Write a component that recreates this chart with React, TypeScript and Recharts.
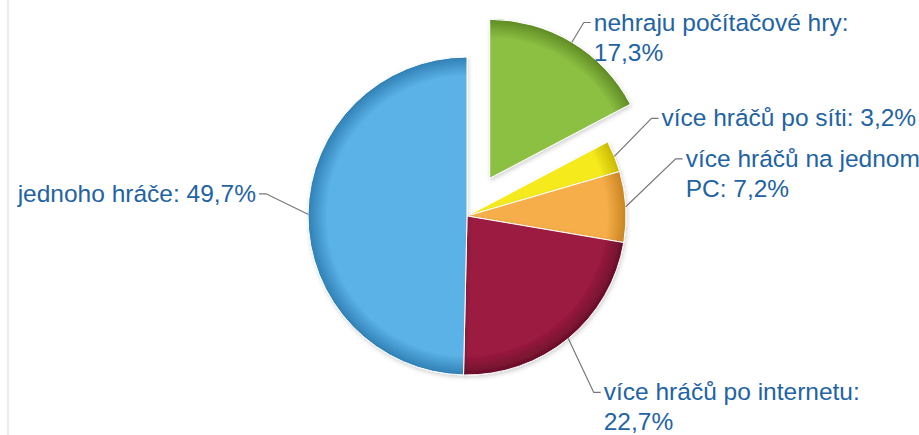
import React from "react"
import { Cell, Pie, PieChart } from "recharts"

// slice order: clockwise from 12 o'clock
const categories = [
  "nehraju počítačové hry",
  "více hráčů po síti",
  "více hráčů na jednom PC",
  "více hráčů po internetu",
  "jednoho hráče",
]
const shares = [17.3, 3.2, 7.2, 22.7, 49.7]

const colors = ["#8cc043", "#f5ea1f", "#f5ae48", "#9b1a40", "#5ab2e6"]
const edgeColors = ["#5f8a24", "#c9b800", "#c98321", "#6a0f2a", "#2f7fb4"]

// label elbow: extra radius beyond the slice and a vertical nudge (layout only)
const labelExtra = [23, 40, 50, 40, 42]
const labelNudge = [0, -23, -45, 23, -20]

const CX = 467
const CY = 216
const R = 159
const EXPLODE = 44
const RADIAN = Math.PI / 180
const FONT = "24.5px 'Liberation Sans', Arial, sans-serif"
const TEXT_COLOR = "#2263a3"

const data = categories.map((name, i) => ({ name, value: shares[i] }))
const total = shares.reduce((a, b) => a + b, 0)

// mid angle of the exploded (first) slice, recharts convention (deg, ccw from 3 o'clock)
const greenMid = 90 - (360 * shares[0]) / total / 2
const gx = CX + EXPLODE * Math.cos(greenMid * RADIAN)
const gy = CY - EXPLODE * Math.sin(greenMid * RADIAN)

let ctx: CanvasRenderingContext2D | null = null
function measure(s: string) {
  if (!ctx) ctx = document.createElement("canvas").getContext("2d")
  if (!ctx) return s.length * 11
  ctx.font = FONT
  return ctx.measureText(s).width
}

function wrap(s: string, max: number) {
  const words = s.split(" ")
  const lines: string[] = []
  let cur = ""
  for (const w of words) {
    const next = cur ? cur + " " + w : w
    if (cur && measure(next) > max) {
      lines.push(cur)
      cur = w
    } else cur = next
  }
  if (cur) lines.push(cur)
  return lines
}

const fmt = (v: number) => v.toFixed(1).replace(".", ",") + "%"

function renderLabel(props: any) {
  const { cx, cy, midAngle, outerRadius, index, name, value } = props
  const cos = Math.cos(-midAngle * RADIAN)
  const sin = Math.sin(-midAngle * RADIAN)
  const sx = cx + outerRadius * cos
  const sy = cy + outerRadius * sin
  const er = outerRadius + labelExtra[index]
  const ex = cx + er * cos
  const ey = cy + er * sin + labelNudge[index]
  const right = cos >= 0
  const tx = ex + (right ? 7 : -7)
  const lines = right ? wrap(`${name}: ${fmt(value)}`, 265) : [`${name}: ${fmt(value)}`]
  return (
    <g key={`lbl-${index}`}>
      <polyline
        points={`${sx},${sy} ${ex},${ey} ${tx},${ey}`}
        fill="none"
        stroke="#777"
        strokeWidth={1.2}
      />
      <text
        x={tx + (right ? 3 : -3)}
        y={ey}
        textAnchor={right ? "start" : "end"}
        fill={TEXT_COLOR}
        style={{ font: FONT }}
      >
        {lines.map((l, k) => (
          <tspan key={k} x={tx + (right ? 3 : -3)} dy={k === 0 ? 8 : 30}>
            {l}
          </tspan>
        ))}
      </text>
    </g>
  )
}

export default function App() {
  return (
    <div style={{ position: "absolute", left: 0, top: 0, width: 919, height: 435, background: "#fff" }}>
      <div
        style={{ position: "absolute", left: 7, top: 0, width: 2, height: 435, background: "#ececec" }}
      />
      <PieChart
        width={919}
        height={435}
        margin={{ top: 0, right: 0, bottom: 0, left: 0 }}
        style={{ position: "absolute", left: 0, top: 0 }}
      >
        <defs>
          {colors.map((c, i) => {
            const isGreen = i === 0
            return (
              <radialGradient
                key={i}
                id={`grad-${i}`}
                gradientUnits="userSpaceOnUse"
                cx={isGreen ? gx : CX}
                cy={isGreen ? gy : CY}
                r={R}
              >
                <stop offset="0%" stopColor={c} />
                <stop offset="88%" stopColor={c} />
                <stop offset="100%" stopColor={edgeColors[i]} />
              </radialGradient>
            )
          })}
          <filter id="shadow" x="-10%" y="-10%" width="120%" height="120%">
            <feDropShadow dx="1" dy="2" stdDeviation="2" floodColor="#000" floodOpacity="0.18" />
          </filter>
        </defs>
        <Pie
          data={data}
          dataKey="value"
          nameKey="name"
          cx={CX}
          cy={CY}
          outerRadius={R}
          startAngle={90}
          endAngle={-270}
          stroke="#fff"
          strokeWidth={1}
          label={(p: any) => (p.index === 0 ? null : renderLabel(p))}
          labelLine={false}
          isAnimationActive={false}
        >
          {data.map((d, i) => (
            <Cell
              key={d.name}
              fill={i === 0 ? "transparent" : `url(#grad-${i})`}
              stroke={i === 0 ? "none" : "#fff"}
              filter="url(#shadow)"
            />
          ))}
        </Pie>
        <Pie
          data={data}
          dataKey="value"
          nameKey="name"
          cx={gx}
          cy={gy}
          outerRadius={R}
          startAngle={90}
          endAngle={-270}
          label={(p: any) => (p.index === 0 ? renderLabel(p) : null)}
          labelLine={false}
          isAnimationActive={false}
        >
          {data.map((d, i) => (
            <Cell
              key={d.name}
              fill={i === 0 ? "url(#grad-0)" : "transparent"}
              stroke={i === 0 ? "#fff" : "none"}
              filter={i === 0 ? "url(#shadow)" : undefined}
            />
          ))}
        </Pie>
      </PieChart>
    </div>
  )
}
